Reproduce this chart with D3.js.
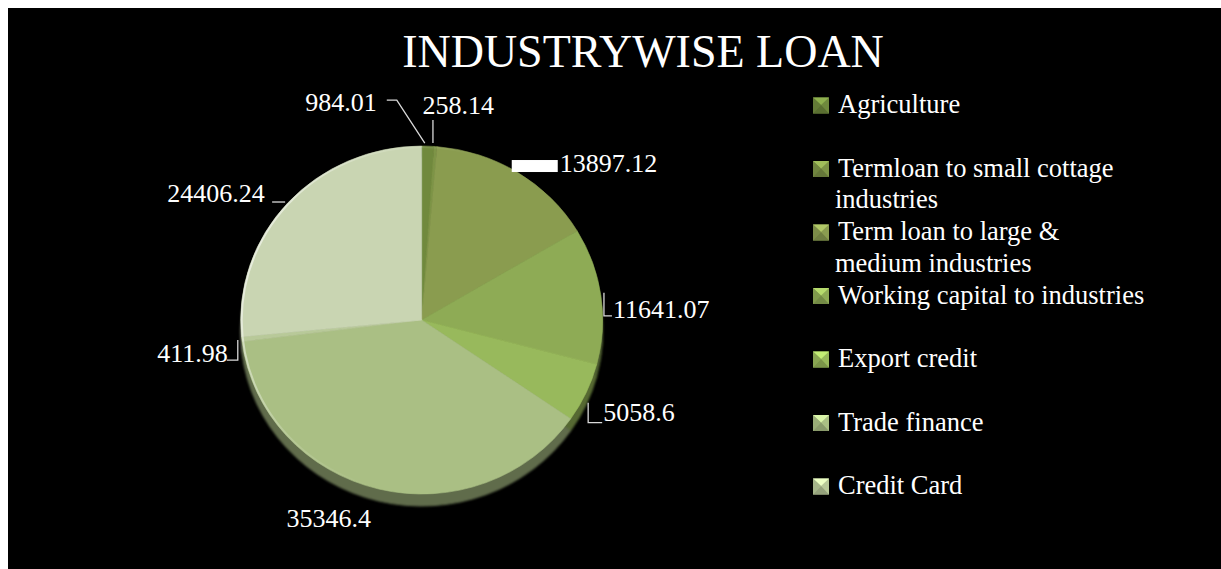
<!DOCTYPE html>
<html>
<head>
<meta charset="utf-8">
<script src="https://cdn.jsdelivr.net/npm/d3@7"></script>
<style>
  html, body { margin: 0; padding: 0; background: #ffffff; }
  svg { display: block; }
  text { font-family: "Liberation Serif", "Times New Roman", serif; fill: #ffffff; }
</style>
</head>
<body>
<svg id="chart" width="1221" height="569" font-family="Liberation Serif, Times New Roman, serif"></svg>
<script>
// ---- data ----
const chartTitle = "INDUSTRYWISE LOAN";
const categories = [
  ["Agriculture"],
  ["Termloan to small cottage", "industries"],
  ["Term loan to large &", "medium industries"],
  ["Working capital to industries"],
  ["Export credit"],
  ["Trade finance"],
  ["Credit Card"],
  ["Other loans"]
];
const values = [984.01, 258.14, 13897.12, 11641.07, 5058.6, 35346.4, 411.98, 24406.24];
const valueLabels = ["984.01", "258.14", "13897.12", "11641.07", "5058.6", "35346.4", "411.98", "24406.24"];
const sliceColors = ["#6f893d", "#7d9446", "#8a9c50", "#8eab55", "#98b95b", "#aabf84", "#b8c999", "#c9d5b2"];
const legendCount = 7; // the legend box only has room for the first seven entries

// ---- layout ----
const W = 1221, H = 569;
const cx = 421.7, cy = 320, RX = 181, RY = 174, depth = 12;

const svg = d3.select("#chart");
const defs = svg.append("defs");

defs.append("filter").attr("id", "soft")
  .append("feGaussianBlur").attr("stdDeviation", 1.2);
defs.append("filter").attr("id", "edge")
  .append("feGaussianBlur").attr("stdDeviation", 0.5);

const rim = defs.append("linearGradient").attr("id", "rimLight")
  .attr("x1", "0").attr("y1", "0").attr("x2", "1").attr("y2", "0.3");
rim.append("stop").attr("offset", "0").attr("stop-color", "#ffffff").attr("stop-opacity", 0.75);
rim.append("stop").attr("offset", "0.35").attr("stop-color", "#ffffff").attr("stop-opacity", 0.15);
rim.append("stop").attr("offset", "0.6").attr("stop-color", "#ffffff").attr("stop-opacity", 0);

// chart area
svg.append("rect").attr("x", 8).attr("y", 8).attr("width", W - 8).attr("height", H - 8).attr("fill", "#000000");

// title
svg.append("text")
  .attr("x", 643).attr("y", 67)
  .attr("text-anchor", "middle")
  .style("font-size", "46px")
  .text(chartTitle);

// ---- pie ----
const pie = d3.pie().sort(null).value(d => d).startAngle(0).endAngle(2 * Math.PI);
const arcs = pie(values);
const arc = d3.arc().innerRadius(0).outerRadius(RX);
const sy = RY / RX;

// side wall of the disc
const side = svg.append("g")
  .attr("transform", `translate(${cx},${cy + depth}) scale(1,${sy})`)
  .attr("filter", "url(#soft)");
side.selectAll("path").data(arcs).join("path")
  .attr("d", arc)
  .attr("fill", (d, i) => d3.color(sliceColors[i]).darker(1.6))
  .attr("stroke", (d, i) => d3.color(sliceColors[i]).darker(1.6))
  .attr("stroke-width", 1);

const face = svg.append("g")
  .attr("transform", `translate(${cx},${cy}) scale(1,${sy})`)
  .attr("filter", "url(#edge)");
face.selectAll("path").data(arcs).join("path")
  .attr("d", arc)
  .attr("fill", (d, i) => sliceColors[i])
  .attr("stroke", (d, i) => sliceColors[i])
  .attr("stroke-width", 0.6);

// light catching the upper-left rim
svg.append("ellipse")
  .attr("cx", cx).attr("cy", cy).attr("rx", RX - 1).attr("ry", RY - 1)
  .attr("fill", "none")
  .attr("stroke", "url(#rimLight)")
  .attr("stroke-width", 2);

// ---- data labels ----
function edgePoint(d) {
  const a = (d.startAngle + d.endAngle) / 2;
  return [cx + RX * Math.sin(a), cy - RY * Math.cos(a)];
}

// text offset from the slice edge, and leader path (also relative to the edge)
const labelLayout = [
  { dx: -51, dy: -35, anchor: "end",    leader: [[-3, -3], [-31, -46], [-41, -46]] },
  { dx: -13, dy: -33, anchor: "start",  leader: [[-2.5, -3.5], [-2.5, -26.5]] },
  { dx: 42,  dy: -1,  anchor: "start",  bar: [-6, -12.5, 46, 12] },
  { dx: 12,  dy: 22,  anchor: "start",  leader: [[3, -3], [3, 20], [11, 20]] },
  { dx: 17,  dy: 28,  anchor: "start",  leader: [[2, 10], [2, 30], [16, 30]] },
  { dx: -50, dy: 37.5, anchor: "middle" },
  { dx: -14, dy: 23,  anchor: "end",    leader: [[-4, 1], [-4, 21], [-15, 21]] },
  { dx: -23, dy: -1,  anchor: "end",    leader: [[-2.6, -1], [-15.6, -1]] }
];

const labels = svg.append("g");
arcs.forEach((d, i) => {
  const [ex, ey] = edgePoint(d);
  const L = labelLayout[i];
  if (L.leader) {
    labels.append("path")
      .attr("d", d3.line()(L.leader.map(p => [ex + p[0], ey + p[1]])))
      .attr("fill", "none")
      .attr("stroke", "#d9d9d9")
      .attr("stroke-width", 1.3);
  }
  if (L.bar) {
    labels.append("rect")
      .attr("x", ex + L.bar[0]).attr("y", ey + L.bar[1])
      .attr("width", L.bar[2]).attr("height", L.bar[3])
      .attr("fill", "#ffffff");
  }
  labels.append("text")
    .attr("x", ex + L.dx).attr("y", ey + L.dy)
    .attr("text-anchor", L.anchor)
    .style("font-size", "26px")
    .text(valueLabels[i]);
});

// ---- legend ----
const legendY = d3.scalePoint()
  .domain(d3.range(legendCount))
  .range([113, 494]);

const legend = svg.append("g");
const item = legend.selectAll("g").data(d3.range(legendCount)).join("g")
  .attr("transform", i => `translate(813,${legendY(i)})`);

// bevelled square markers
const m = 16;
item.append("rect")
  .attr("x", 0).attr("y", -15.5).attr("width", m).attr("height", m)
  .attr("fill", i => sliceColors[i]);
item.append("path")
  .attr("d", `M0,-15.5 L${m},-15.5 L${m / 2},-8 Z`)
  .attr("fill", i => d3.color(sliceColors[i]).brighter(0.7));
item.append("path")
  .attr("d", `M0,-15.5 L${m / 2},-8 L0,0.5 Z`)
  .attr("fill", i => d3.color(sliceColors[i]).darker(0.3));
item.append("path")
  .attr("d", `M0,0.5 L${m / 2},-8 L${m},0.5 Z`)
  .attr("fill", i => d3.color(sliceColors[i]).darker(0.6));

item.append("text")
  .attr("x", 25).attr("y", 0)
  .style("font-size", "26.5px")
  .selectAll("tspan").data(i => categories[i]).join("tspan")
  .attr("x", (t, k) => k === 0 ? 25 : 22)
  .attr("dy", (t, k) => k === 0 ? 0 : 31.5)
  .text(t => t);
</script>
</body>
</html>
